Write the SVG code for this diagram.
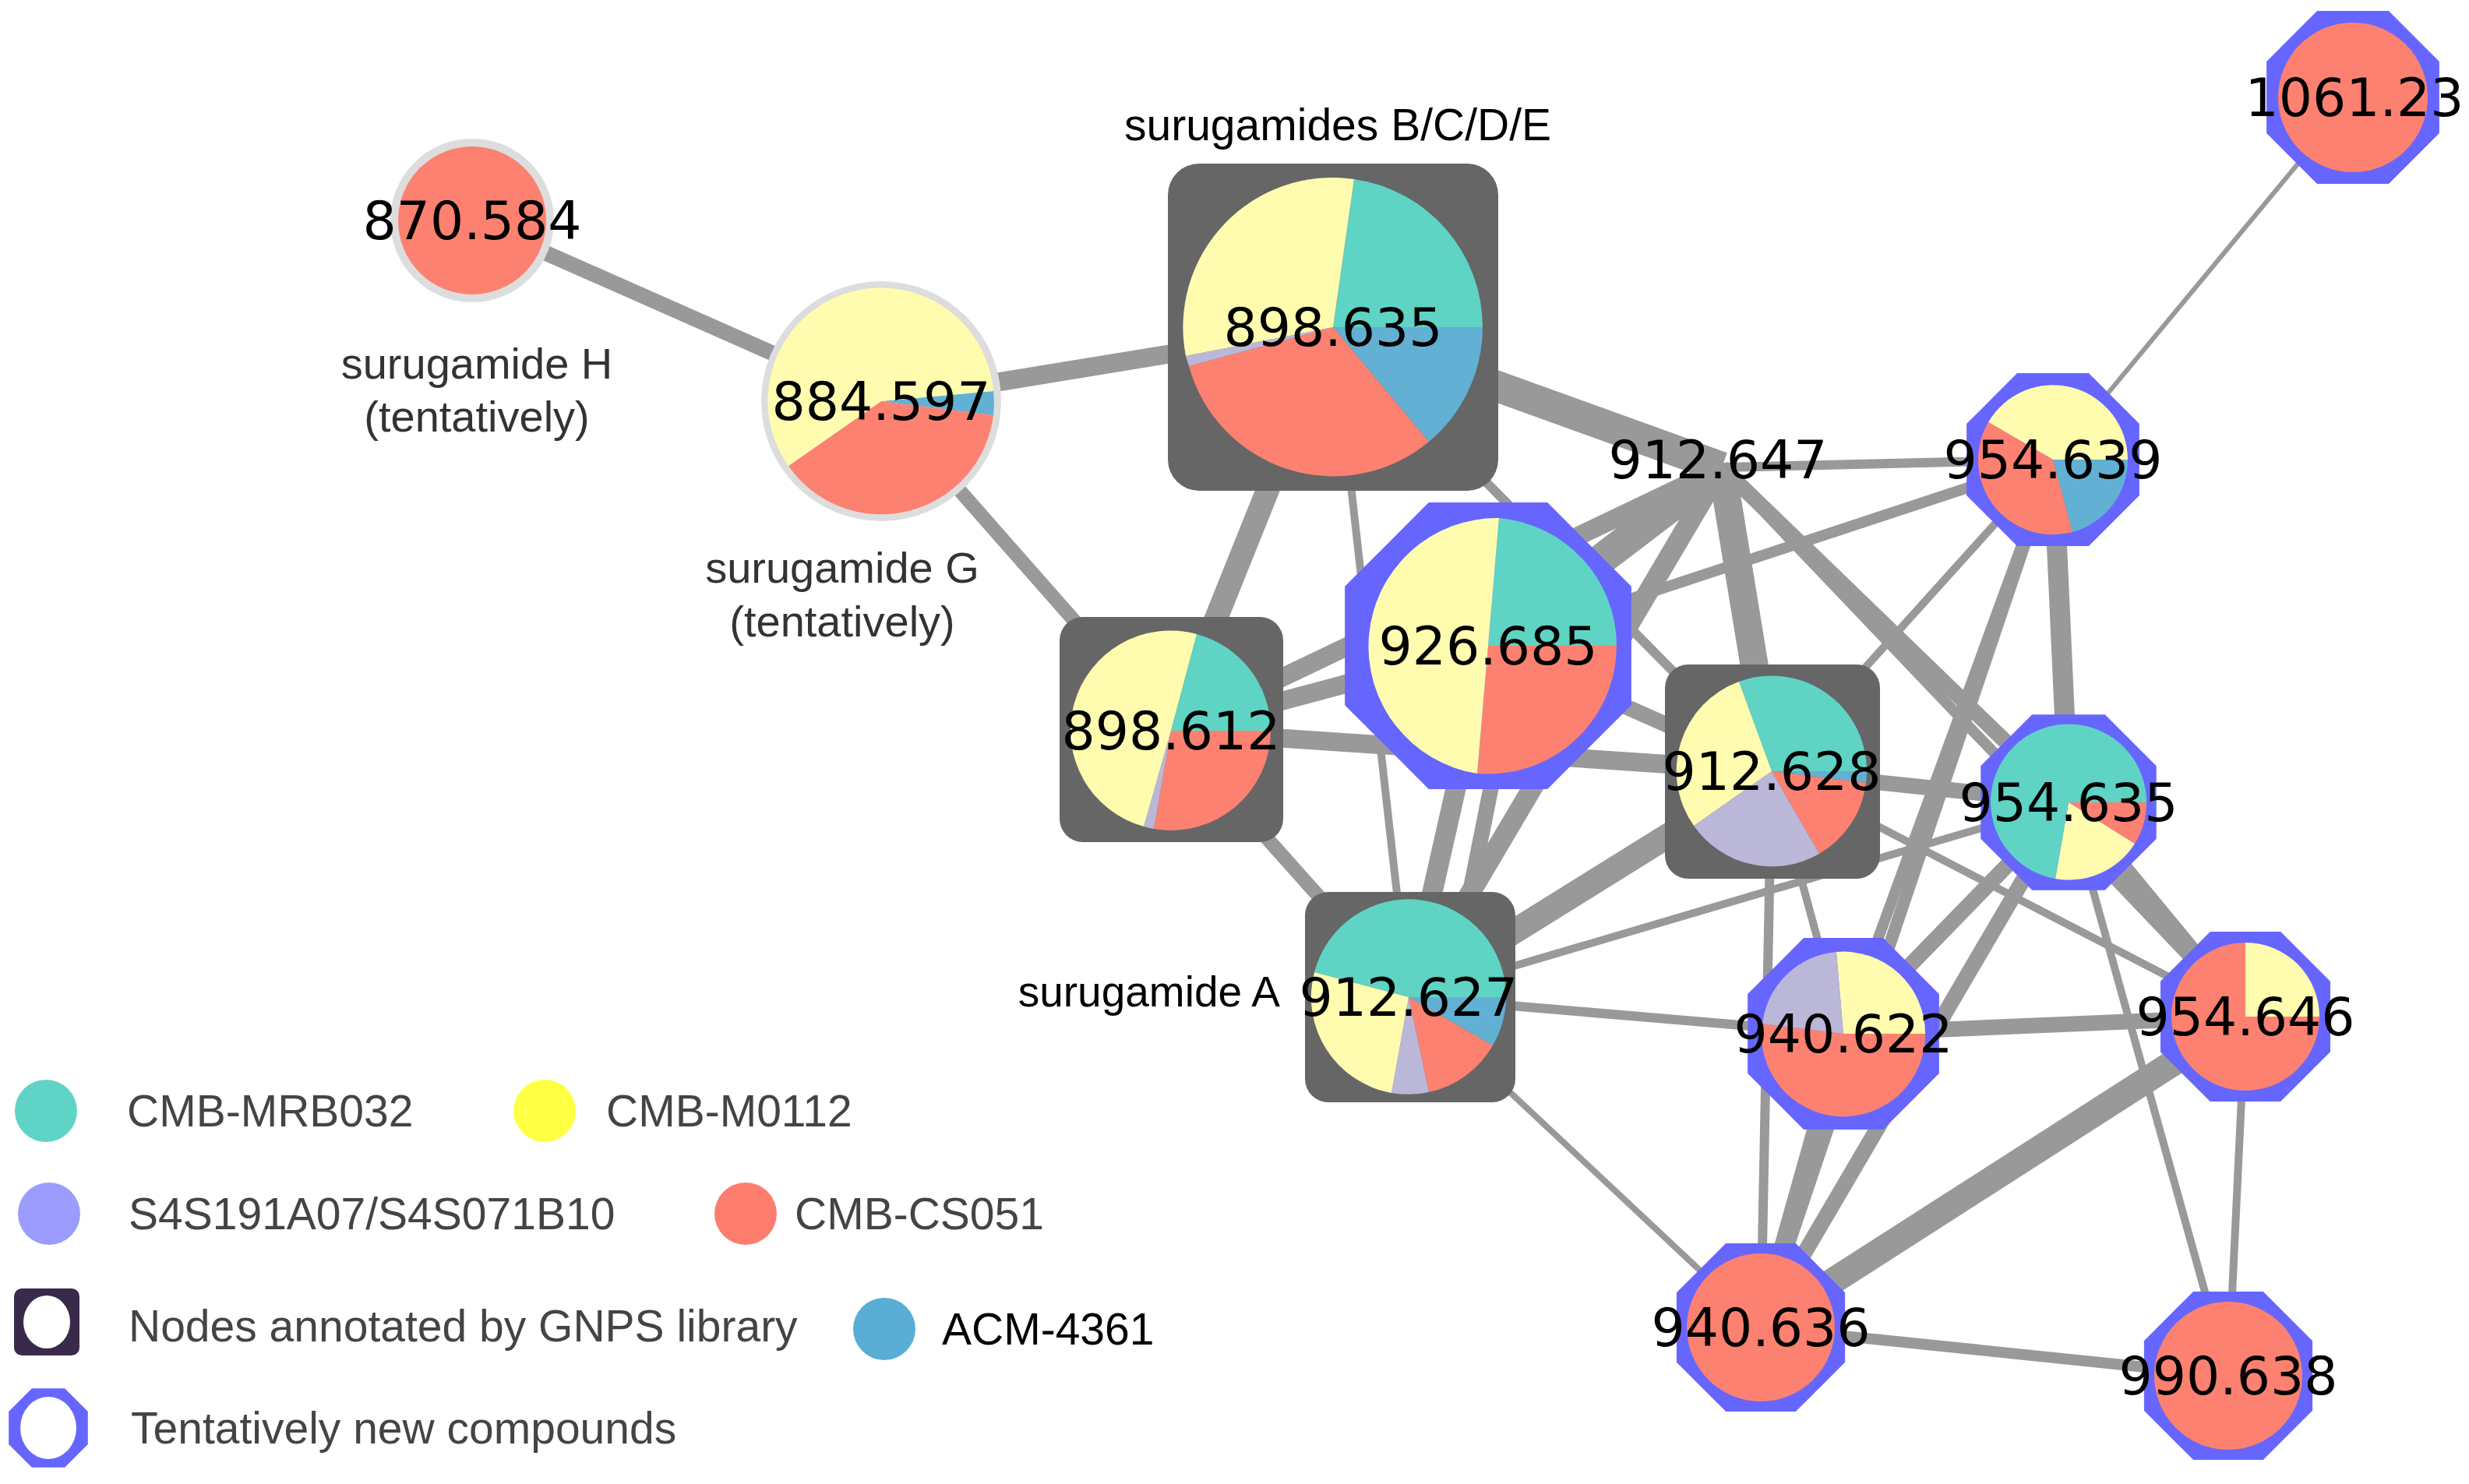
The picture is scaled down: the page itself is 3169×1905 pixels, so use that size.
<svg xmlns="http://www.w3.org/2000/svg" width="3169" height="1905" viewBox="0 0 3169 1905">
<style>
.e{stroke:#999;fill:none;stroke-linecap:butt}
.t{fill:#5fd3c4}.y{fill:#fffcb0}.r{fill:#fd8170}.p{fill:#bbb7d9}.b{fill:#62b0d3}
.oct{fill:#6666ff}
.sq{fill:#666}
.nl{font-family:"DejaVu Sans",sans-serif;font-size:68px;fill:#000;text-anchor:middle}
.lb{font-family:"Liberation Sans",Arial,sans-serif;font-size:56px;fill:#333;text-anchor:middle}
.lg{font-family:"Liberation Sans",Arial,sans-serif;font-size:57px;fill:#444}
</style>
<defs>
<polygon id="octp" points="0.383,-0.924 0.924,-0.383 0.924,0.383 0.383,0.924 -0.383,0.924 -0.924,0.383 -0.924,-0.383 -0.383,-0.924"/>
</defs>
<rect width="3169" height="1905" fill="#fff"/>
<g id="connectors" class="e">
<line x1="606" y1="283" x2="1131" y2="515" stroke-width="20"/>
<line x1="1131" y1="515" x2="1711" y2="420" stroke-width="24"/>
<line x1="1131" y1="515" x2="1503" y2="938" stroke-width="18"/>
<line x1="1711" y1="420" x2="1503" y2="938" stroke-width="30"/>
<line x1="1711" y1="420" x2="1808" y2="1280" stroke-width="10"/>
<line x1="1711" y1="420" x2="2210" y2="600" stroke-width="40"/>
<line x1="1711" y1="420" x2="2274" y2="990" stroke-width="12"/>
<line x1="2210" y1="600" x2="2635" y2="590" stroke-width="12"/>
<line x1="2210" y1="600" x2="1910" y2="829" stroke-width="40"/>
<line x1="2210" y1="600" x2="2274" y2="990" stroke-width="36"/>
<line x1="2210" y1="600" x2="1503" y2="938" stroke-width="24"/>
<line x1="2210" y1="600" x2="1808" y2="1280" stroke-width="26"/>
<line x1="2210" y1="600" x2="2655" y2="1030" stroke-width="20"/>
<line x1="2210" y1="600" x2="2882" y2="1305" stroke-width="14"/>
<line x1="2635" y1="590" x2="3020" y2="125" stroke-width="6"/>
<line x1="2635" y1="590" x2="1910" y2="829" stroke-width="14"/>
<line x1="2635" y1="590" x2="2274" y2="990" stroke-width="10"/>
<line x1="2635" y1="590" x2="2655" y2="1030" stroke-width="26"/>
<line x1="2635" y1="590" x2="2366" y2="1327" stroke-width="14"/>
<line x1="2635" y1="590" x2="2260" y2="1704" stroke-width="16"/>
<line x1="1503" y1="938" x2="1910" y2="829" stroke-width="24"/>
<line x1="1503" y1="938" x2="2274" y2="990" stroke-width="24"/>
<line x1="1503" y1="938" x2="1808" y2="1280" stroke-width="18"/>
<line x1="1910" y1="829" x2="1808" y2="1280" stroke-width="26"/>
<line x1="1950" y1="829" x2="1860" y2="1280" stroke-width="20"/>
<line x1="1910" y1="829" x2="2274" y2="990" stroke-width="20"/>
<line x1="2274" y1="990" x2="1808" y2="1280" stroke-width="32"/>
<line x1="2274" y1="990" x2="2655" y2="1030" stroke-width="20"/>
<line x1="2274" y1="990" x2="2366" y2="1327" stroke-width="10"/>
<line x1="2274" y1="990" x2="2260" y2="1704" stroke-width="12"/>
<line x1="2274" y1="990" x2="2882" y2="1305" stroke-width="10"/>
<line x1="1808" y1="1280" x2="2366" y2="1327" stroke-width="12"/>
<line x1="1808" y1="1280" x2="2655" y2="1030" stroke-width="10"/>
<line x1="1808" y1="1280" x2="2260" y2="1704" stroke-width="8"/>
<line x1="2655" y1="1030" x2="2366" y2="1327" stroke-width="20"/>
<line x1="2655" y1="1030" x2="2882" y2="1305" stroke-width="24"/>
<line x1="2655" y1="1030" x2="2260" y2="1704" stroke-width="20"/>
<line x1="2655" y1="1030" x2="2860" y2="1766" stroke-width="10"/>
<line x1="2366" y1="1327" x2="2882" y2="1305" stroke-width="20"/>
<line x1="2366" y1="1327" x2="2260" y2="1704" stroke-width="24"/>
<line x1="2882" y1="1305" x2="2260" y2="1704" stroke-width="34"/>
<line x1="2882" y1="1305" x2="2860" y2="1766" stroke-width="10"/>
<line x1="2260" y1="1704" x2="2860" y2="1766" stroke-width="14"/>
</g>
<g id="n870">
<circle cx="606" cy="283" r="100" class="r" stroke="#ddd" stroke-width="10"/>
<text class="nl" x="606" y="307">870.584</text>
<text class="lb" x="612" y="486">surugamide H</text>
<text class="lb" x="612" y="554">(tentatively)</text>
</g>
<g id="n884">
<circle cx="1131" cy="515" r="154" fill="#ddd"/>
<path class="b" d="M1131,515 L1275,502 A145,145 0 0 1 1275,533 Z"/>
<path class="r" d="M1131,515 L1275,533 A145,145 0 0 1 1012,598 Z"/>
<path class="y" d="M1131,515 L1012,598 A145,145 0 1 1 1275,502 Z"/>
<text class="nl" x="1131" y="539">884.597</text>
<text class="lb" x="1081" y="748">surugamide G</text>
<text class="lb" x="1081" y="817">(tentatively)</text>
</g>
<g id="nBCDE">
<rect class="sq" x="1499" y="210" width="424" height="420" rx="40"/>
<path class="t" d="M1711,420 L1738,230 A192,192 0 0 1 1903,420 Z"/>
<path class="b" d="M1711,420 L1903,420 A192,192 0 0 1 1834,567 Z"/>
<path class="r" d="M1711,420 L1834,567 A192,192 0 0 1 1526,470 Z"/>
<path class="p" d="M1711,420 L1526,470 A192,192 0 0 1 1522,457 Z"/>
<path class="y" d="M1711,420 L1522,457 A192,192 0 0 1 1738,230 Z"/>
<text class="nl" x="1711" y="444">898.635</text>
<text x="1717" y="180" font-family="Liberation Sans,Arial,sans-serif" font-size="57" fill="#000" text-anchor="middle">surugamides B/C/D/E</text>
</g>
<g id="n898612">
<rect class="sq" x="1360" y="792" width="287" height="289" rx="30"/>
<path class="t" d="M1503,938 L1536,814 A128,128 0 0 1 1631,938 Z"/>
<path class="r" d="M1503,938 L1631,938 A128,128 0 0 1 1481,1064 Z"/>
<path class="p" d="M1503,938 L1481,1064 A128,128 0 0 1 1468,1061 Z"/>
<path class="y" d="M1503,938 L1468,1061 A128,128 0 0 1 1536,814 Z"/>
<text class="nl" x="1503" y="962">898.612</text>
</g>
<g id="n926">
<use href="#octp" class="oct" transform="translate(1910,829) scale(199)"/>
<path class="t" d="M1910,829 L1924,665 A165,165 0 0 1 2075,829 Z"/>
<path class="r" d="M1910,829 L2075,829 A165,165 0 0 1 1896,993 Z"/>
<path class="y" d="M1910,829 L1896,993 A165,165 0 0 1 1924,665 Z"/>
<text class="nl" x="1910" y="853">926.685</text>
</g>
<g id="n912628">
<rect class="sq" x="2137" y="853" width="276" height="275" rx="30"/>
<path class="t" d="M2274,990 L2232,875 A122,122 0 0 1 2396,990 Z"/>
<path class="b" d="M2274,990 L2396,990 A122,122 0 0 1 2395,1005 Z"/>
<path class="r" d="M2274,990 L2395,1005 A122,122 0 0 1 2335,1096 Z"/>
<path class="p" d="M2274,990 L2335,1096 A122,122 0 0 1 2174,1060 Z"/>
<path class="y" d="M2274,990 L2174,1060 A122,122 0 0 1 2232,875 Z"/>
<text class="nl" x="2274" y="1014">912.628</text>
</g>
<g id="n912627">
<rect class="sq" x="1675" y="1145" width="270" height="270" rx="30"/>
<path class="t" d="M1808,1280 L1687,1248 A125,125 0 0 1 1933,1280 Z"/>
<path class="b" d="M1808,1280 L1933,1280 A125,125 0 0 1 1916,1342 Z"/>
<path class="r" d="M1808,1280 L1916,1342 A125,125 0 0 1 1834,1402 Z"/>
<path class="p" d="M1808,1280 L1834,1402 A125,125 0 0 1 1786,1403 Z"/>
<path class="y" d="M1808,1280 L1786,1403 A125,125 0 0 1 1687,1248 Z"/>
<text class="nl" x="1808" y="1304">912.627</text>
<text x="1643" y="1292" font-family="Liberation Sans,Arial,sans-serif" font-size="55" fill="#000" text-anchor="end">surugamide A</text>
</g>
<g id="n912647">
<text class="nl" x="2205" y="614">912.647</text>
</g>
<g id="n954639">
<use href="#octp" class="oct" transform="translate(2635,590) scale(120)"/>
<path class="y" d="M2635,590 L2552,542 A96,96 0 0 1 2731,590 Z"/>
<path class="b" d="M2635,590 L2731,590 A96,96 0 0 1 2660,683 Z"/>
<path class="r" d="M2635,590 L2660,683 A96,96 0 0 1 2552,542 Z"/>
<text class="nl" x="2635" y="614">954.639</text>
</g>
<g id="n1061">
<use href="#octp" class="oct" transform="translate(3020,125) scale(120)"/>
<circle class="r" cx="3020" cy="125" r="96"/>
<text class="nl" x="3022" y="149">1061.23</text>
</g>
<g id="n954635">
<use href="#octp" class="oct" transform="translate(2655,1030) scale(122)"/>
<path class="r" d="M2655,1030 L2755,1030 A100,100 0 0 1 2740,1083 Z"/>
<path class="y" d="M2655,1030 L2740,1083 A100,100 0 0 1 2638,1128 Z"/>
<path class="t" d="M2655,1030 L2638,1128 A100,100 0 1 1 2755,1030 Z"/>
<text class="nl" x="2655" y="1054">954.635</text>
</g>
<g id="n940622">
<use href="#octp" class="oct" transform="translate(2366,1327) scale(133)"/>
<path class="y" d="M2366,1327 L2357,1222 A105,105 0 0 1 2471,1327 Z"/>
<path class="r" d="M2366,1327 L2471,1327 A105,105 0 1 1 2262,1314 Z"/>
<path class="p" d="M2366,1327 L2262,1314 A105,105 0 0 1 2357,1222 Z"/>
<text class="nl" x="2366" y="1351">940.622</text>
</g>
<g id="n954646">
<use href="#octp" class="oct" transform="translate(2882,1305) scale(118)"/>
<path class="y" d="M2882,1305 L2882,1210 A95,95 0 0 1 2977,1305 Z"/>
<path class="r" d="M2882,1305 L2977,1305 A95,95 0 1 1 2882,1210 Z"/>
<text class="nl" x="2882" y="1329">954.646</text>
</g>
<g id="n940636">
<use href="#octp" class="oct" transform="translate(2260,1704) scale(117)"/>
<circle class="r" cx="2260" cy="1704" r="95"/>
<text class="nl" x="2260" y="1728">940.636</text>
</g>
<g id="n990638">
<use href="#octp" class="oct" transform="translate(2860,1766) scale(117)"/>
<circle class="r" cx="2860" cy="1766" r="95"/>
<text class="nl" x="2860" y="1790">990.638</text>
</g>
<g id="legend">
<circle cx="59" cy="1426" r="40" fill="#5fd3c5"/>
<text class="lg" x="163" y="1446">CMB-MRB032</text>
<circle cx="699" cy="1426" r="40" fill="#ffff44"/>
<text class="lg" x="778" y="1446">CMB-M0112</text>
<circle cx="63" cy="1558" r="40" fill="#9c9cff"/>
<text class="lg" x="165" y="1578">S4S191A07/S4S071B10</text>
<circle cx="957" cy="1558" r="40" fill="#fd7d6e"/>
<text class="lg" x="1020" y="1578">CMB-CS051</text>
<rect x="18" y="1654" width="84" height="86" rx="10" fill="#3a2a4a"/>
<ellipse cx="60" cy="1697" rx="30" ry="34" fill="#fff"/>
<text class="lg" x="165" y="1722">Nodes annotated by GNPS library</text>
<circle cx="1135" cy="1706" r="40" fill="#5aadd4"/>
<text x="1209" y="1726" font-family="Liberation Sans,Arial,sans-serif" font-size="57" fill="#000">ACM-4361</text>
<use href="#octp" fill="#6666ff" transform="translate(62,1833) scale(55)"/>
<ellipse cx="62" cy="1833" rx="36" ry="40" fill="#fff"/>
<text class="lg" x="168" y="1853">Tentatively new compounds</text>
</g>
</svg>
